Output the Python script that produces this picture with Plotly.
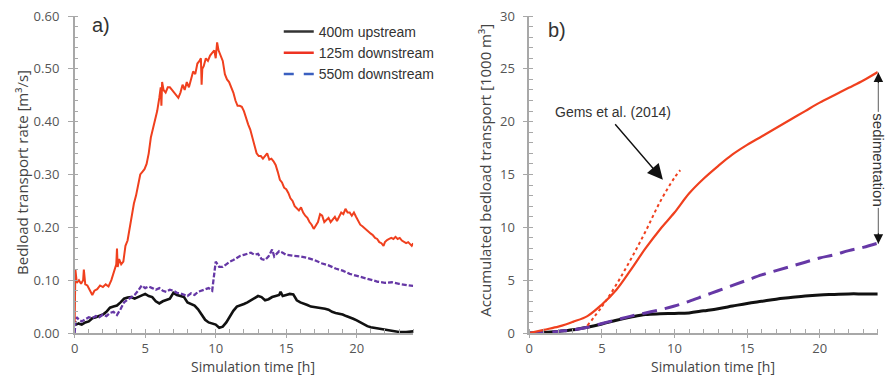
import plotly.graph_objects as go

# ---------- Panel a: bedload transport rate ----------
t_red_a = [0, 0.05, 0.15, 0.3, 0.45, 0.6, 0.65, 0.75, 0.9, 1.1, 1.25, 1.4, 1.6, 1.8, 2.0, 2.2, 2.4, 2.6, 2.8, 2.95,
           3.0, 3.05, 3.15, 3.3, 3.45, 3.6, 3.75, 3.9, 4.05, 4.2, 4.35, 4.5, 4.65, 4.8, 4.95, 5.1, 5.25, 5.4, 5.55, 5.7,
           5.85, 6.0, 6.1, 6.15, 6.2, 6.3, 6.45, 6.6, 6.75, 6.9, 7.05, 7.2, 7.35, 7.5, 7.65, 7.8, 7.95, 8.1, 8.25, 8.4,
           8.55, 8.7, 8.85, 8.95, 9.0, 9.05, 9.15, 9.3, 9.45, 9.6, 9.75, 9.9, 10.0, 10.1, 10.2, 10.35, 10.5, 10.65, 10.8,
           10.95, 11.1, 11.25, 11.4, 11.55, 11.7, 11.85, 12.0, 12.15, 12.3, 12.45, 12.6, 12.75, 12.9, 13.05, 13.2, 13.35,
           13.5, 13.65, 13.8, 13.95, 14.1, 14.25, 14.4, 14.55, 14.7, 14.85, 15.0, 15.15, 15.3, 15.45, 15.6, 15.75, 15.9,
           16.05, 16.2, 16.35, 16.5, 16.65, 16.8, 16.95, 17.1, 17.25, 17.4, 17.55, 17.7, 17.85, 18.0, 18.15, 18.3, 18.45,
           18.6, 18.75, 18.9, 19.05, 19.2, 19.35, 19.5, 19.65, 19.8, 19.95, 20.1, 20.25, 20.4, 20.55, 20.7, 20.85, 21.0,
           21.15, 21.3, 21.45, 21.6, 21.75, 21.9, 22.0, 22.15, 22.3, 22.45, 22.6, 22.75, 22.9, 23.05, 23.2, 23.35, 23.5,
           23.65, 23.8, 23.9, 24.0]
q_red_a = [0.02, 0.12, 0.095, 0.10, 0.093, 0.10, 0.12, 0.092, 0.09, 0.08, 0.072, 0.08, 0.083, 0.09, 0.087, 0.092, 0.088,
           0.10, 0.115, 0.13, 0.16, 0.125, 0.14, 0.13, 0.135, 0.165, 0.175, 0.20, 0.225, 0.245, 0.26, 0.28, 0.30, 0.305,
           0.31, 0.32, 0.34, 0.37, 0.385, 0.40, 0.42, 0.445, 0.465, 0.43, 0.475, 0.46, 0.455, 0.465, 0.465, 0.46, 0.455,
           0.45, 0.445, 0.455, 0.47, 0.46, 0.475, 0.465, 0.48, 0.495, 0.49, 0.51, 0.515, 0.52, 0.47, 0.50, 0.505, 0.52,
           0.515, 0.525, 0.53, 0.535, 0.52, 0.55, 0.535, 0.525, 0.515, 0.49, 0.48, 0.475, 0.465, 0.455, 0.44, 0.43, 0.43,
           0.428, 0.42, 0.405, 0.395, 0.385, 0.37, 0.355, 0.34, 0.335, 0.335, 0.33, 0.335, 0.34, 0.328, 0.33, 0.325,
           0.318, 0.305, 0.29, 0.285, 0.275, 0.272, 0.265, 0.255, 0.25, 0.24, 0.235, 0.232, 0.238, 0.228, 0.222, 0.218,
           0.21, 0.205, 0.197, 0.205, 0.21, 0.225, 0.222, 0.21, 0.215, 0.218, 0.21, 0.215, 0.22, 0.212, 0.22, 0.228,
           0.225, 0.235, 0.228, 0.228, 0.222, 0.228, 0.22, 0.212, 0.205, 0.202, 0.198, 0.195, 0.19, 0.188, 0.185, 0.18,
           0.178, 0.172, 0.17, 0.165, 0.172, 0.176, 0.178, 0.18, 0.178, 0.182, 0.178, 0.18, 0.175, 0.172, 0.17, 0.172,
           0.168, 0.165, 0.17]

t_blk_a = [0, 0.25, 0.5, 0.75, 1.0, 1.25, 1.5, 1.75, 2.0, 2.25, 2.5, 2.75, 3.0, 3.25, 3.5, 3.75, 4.0, 4.25, 4.5, 4.75,
           5.0, 5.25, 5.5, 5.75, 6.0, 6.25, 6.5, 6.75, 7.0, 7.25, 7.5, 7.75, 8.0, 8.25, 8.5, 8.75, 9.0, 9.25, 9.5, 9.75,
           10.0, 10.25, 10.5, 10.75, 11.0, 11.25, 11.5, 11.75, 12.0, 12.25, 12.5, 12.75, 13.0, 13.25, 13.5, 13.75, 14.0,
           14.25, 14.5, 14.6, 14.75, 15.0, 15.25, 15.5, 15.75, 16.0, 16.25, 16.5, 16.75, 17.0, 17.25, 17.5, 17.75, 18.0,
           18.25, 18.5, 18.75, 19.0, 19.25, 19.5, 19.75, 20.0, 20.25, 20.5, 20.75, 21.0, 21.25, 21.5, 21.75, 22.0, 22.25,
           22.5, 22.75, 23.0, 23.5, 24.0]
q_blk_a = [0.015, 0.018, 0.016, 0.02, 0.022, 0.028, 0.03, 0.032, 0.035, 0.04, 0.048, 0.05, 0.052, 0.058, 0.065, 0.067,
           0.068, 0.065, 0.068, 0.07, 0.074, 0.07, 0.068, 0.06, 0.056, 0.06, 0.062, 0.065, 0.076, 0.072, 0.07, 0.068,
           0.058, 0.055, 0.052, 0.045, 0.035, 0.025, 0.02, 0.018, 0.016, 0.01, 0.012, 0.02, 0.032, 0.042, 0.05, 0.052,
           0.055, 0.058, 0.062, 0.066, 0.07, 0.068, 0.062, 0.064, 0.068, 0.07, 0.072, 0.078, 0.07, 0.072, 0.074, 0.073,
           0.062, 0.058, 0.056, 0.053, 0.05, 0.049, 0.048, 0.048, 0.046, 0.044, 0.04, 0.038, 0.037, 0.035, 0.032, 0.03,
           0.027, 0.024, 0.02, 0.016, 0.013, 0.011, 0.01, 0.009, 0.008, 0.007, 0.005, 0.004, 0.003, 0.002, 0.002, 0.003]

t_pur_a = [0, 0.05, 0.15, 0.3, 0.5, 0.75, 1.0, 1.25, 1.5, 1.75, 2.0, 2.25, 2.5, 2.75, 3.0, 3.25, 3.5, 3.75, 4.0, 4.25,
           4.5, 4.75, 5.0, 5.25, 5.5, 5.75, 6.0, 6.25, 6.5, 6.75, 7.0, 7.25, 7.5, 7.75, 8.0, 8.25, 8.5, 8.75, 9.0, 9.25,
           9.5, 9.75, 9.9, 10.0, 10.25, 10.5, 10.75, 11.0, 11.25, 11.5, 11.75, 12.0, 12.25, 12.5, 12.75, 13.0, 13.25,
           13.5, 13.75, 14.0, 14.15, 14.5, 14.75, 15.0, 15.5, 16.0, 16.5, 17.0, 17.5, 18.0, 18.5, 19.0, 19.5, 20.0, 20.5,
           21.0, 21.5, 22.0, 22.5, 23.0, 23.5, 24.0]
q_pur_a = [0.0, 0.02, 0.03, 0.025, 0.022, 0.026, 0.03, 0.028, 0.032, 0.03, 0.035, 0.032, 0.038, 0.04, 0.034, 0.045,
           0.058, 0.063, 0.068, 0.072, 0.08, 0.09, 0.085, 0.088, 0.085, 0.082, 0.085, 0.08, 0.078, 0.082, 0.08, 0.076,
           0.075, 0.072, 0.07, 0.075, 0.072, 0.078, 0.08, 0.082, 0.085, 0.08, 0.12, 0.135, 0.125, 0.125, 0.13, 0.135,
           0.138, 0.142, 0.146, 0.148, 0.15, 0.152, 0.148, 0.15, 0.14, 0.138, 0.145, 0.158, 0.145, 0.155, 0.152, 0.148,
           0.146, 0.145, 0.142, 0.138, 0.132, 0.128, 0.122, 0.118, 0.112, 0.108, 0.104, 0.1, 0.097, 0.095, 0.096, 0.093,
           0.091, 0.089]

# ---------- Panel b: accumulated bedload ----------
t_b = [0, 1, 2, 2.5, 3, 4, 5, 6, 7, 8, 9, 10, 11, 12, 13, 14, 15, 16, 17, 18, 19, 20, 21, 22, 23, 24]
v_red_b = [0, 0.3, 0.6, 0.8, 1.05, 1.6, 2.7, 4.1, 6.0, 8.0, 9.8, 11.4, 13.2, 14.6, 15.8, 16.9, 17.8, 18.6, 19.4, 20.2,
           21.0, 21.8, 22.5, 23.2, 23.9, 24.7]
v_blk_b = [0, 0.05, 0.15, 0.22, 0.3, 0.55, 0.85, 1.2, 1.5, 1.75, 1.82, 1.85, 1.9, 2.1, 2.3, 2.55, 2.8, 3.0, 3.2, 3.35,
           3.5, 3.6, 3.65, 3.7, 3.7, 3.7]
v_pur_b = [0, 0.05, 0.15, 0.22, 0.3, 0.55, 0.9, 1.25, 1.6, 1.9, 2.2, 2.55, 3.0, 3.5, 4.0, 4.5, 5.0, 5.5, 5.9, 6.3, 6.7,
           7.1, 7.4, 7.8, 8.1, 8.5]
t_gems = [4.0, 5.0, 6.0, 7.0, 8.0, 9.0, 10.0, 10.4]
v_gems = [0.7, 2.5, 4.6, 7.0, 9.6, 12.4, 14.7, 15.4]

legend_names = ["400m upstream", "125m downstream", "550m downstream"]
sed_top, sed_bottom = 24.65, 8.45

RED = "#f0401e"
BLK = "#111111"
PUR = "#6638a6"
AX = "#a8a8a8"
TXT = "#555555"

W, H = 889, 377
MT, MB = 16, 44
PH = H - MT - MB


def px(x):
    return x / W


def py(y):
    return (H - MB - y) / PH


fig = go.Figure()

# panel a traces
fig.add_trace(go.Scatter(x=t_blk_a, y=q_blk_a, mode="lines", line=dict(color=BLK, width=2.6),
                         showlegend=False, xaxis="x", yaxis="y"))
fig.add_trace(go.Scatter(x=t_pur_a, y=q_pur_a, mode="lines", line=dict(color=PUR, width=2.3, dash="5px,2px"),
                         showlegend=False, xaxis="x", yaxis="y"))
fig.add_trace(go.Scatter(x=t_red_a, y=q_red_a, mode="lines", line=dict(color=RED, width=2),
                         showlegend=False, xaxis="x", yaxis="y"))

# legend-only entries
fig.add_trace(go.Scatter(x=[None], y=[None], mode="lines", name=legend_names[0],
                         line=dict(color="#333333", width=2.5), xaxis="x", yaxis="y"))
fig.add_trace(go.Scatter(x=[None], y=[None], mode="lines", name=legend_names[1],
                         line=dict(color="#ee3322", width=2.5), xaxis="x", yaxis="y"))
fig.add_trace(go.Scatter(x=[None], y=[None], mode="lines", name=legend_names[2],
                         line=dict(color="#3a5fc0", width=2.5, dash="10px,10px"), xaxis="x", yaxis="y"))

# panel b traces
fig.add_trace(go.Scatter(x=t_b, y=v_blk_b, mode="lines", line=dict(color=BLK, width=3, shape="spline"),
                         showlegend=False, xaxis="x2", yaxis="y2"))
fig.add_trace(go.Scatter(x=t_b, y=v_pur_b, mode="lines",
                         line=dict(color=PUR, width=3, dash="15px,8px", shape="spline"),
                         showlegend=False, xaxis="x2", yaxis="y2"))
fig.add_trace(go.Scatter(x=t_b, y=v_red_b, mode="lines", line=dict(color=RED, width=2.2, shape="spline"),
                         showlegend=False, xaxis="x2", yaxis="y2"))
fig.add_trace(go.Scatter(x=t_gems, y=v_gems, mode="lines", line=dict(color=RED, width=2, dash="dot", shape="spline"),
                         showlegend=False, xaxis="x2", yaxis="y2"))

tickfont = dict(family="Open Sans", size=13, color=TXT)


def xax(domain, anchor):
    return dict(domain=domain, range=[0, 24], dtick=5, tick0=0, showgrid=False, zeroline=False,
                showline=True, linecolor=AX, linewidth=1.5, ticks="outside", ticklen=3, tickcolor=AX,
                tickwidth=1.2, tickfont=tickfont, anchor=anchor, ticklabelstandoff=0,
                minor=dict(dtick=1, ticks="inside", ticklen=4, tickcolor=AX, tickwidth=1), fixedrange=True)


def yax(rng, dtick, mdtick, fmt, anchor, standoff):
    return dict(domain=[0, 1], range=rng, dtick=dtick, tick0=0, tickformat=fmt, showgrid=False, zeroline=False,
                showline=True, linecolor=AX, linewidth=1.5, ticks="outside", ticklen=5, tickcolor=AX,
                tickwidth=1.2, tickfont=tickfont, anchor=anchor, ticklabelstandoff=standoff,
                minor=dict(dtick=mdtick, ticks="inside", ticklen=4, tickcolor=AX, tickwidth=1), fixedrange=True)


title_font = dict(family="Open Sans", size=15, color="#444444")
xtitle_font = dict(family="Open Sans", size=14, color="#444444")
arial = "Liberation Sans, Arial"


def txt(text, x, y, font, **kw):
    d = dict(text=text, x=px(x), y=py(y), xref="paper", yref="paper", showarrow=False,
             xanchor="center", yanchor="middle", font=font)
    d.update(kw)
    return d


SEDX = px(878.3)
annotations = [
    txt("a)", 97, 25, dict(family=arial, size=20, color="#333333")),
    txt("b)", 555, 30, dict(family=arial, size=20, color="#333333")),
    txt("Bedload transport rate [m³/s]", 18, 172, title_font, textangle=-90),
    txt("Accumulated bedload transport [1000 m³]", 483, 170, title_font, textangle=-90),
    txt("Simulation time [h]", 250, 366.5, xtitle_font, borderpad=0),
    txt("Simulation time [h]", 712, 366.5, xtitle_font, borderpad=0),
    txt("Gems et al. (2014)", 612, 112, dict(family=arial, size=14, color="#333333")),
    # Gems arrow
    dict(text="", x=9.2, y=14.5, xref="x2", yref="y2", showarrow=True, ax=-49, ay=-57,
         arrowhead=2, arrowsize=2.2, arrowwidth=1.4, arrowcolor="#111111", standoff=0),
    # sedimentation arrow heads (black)
    dict(text="", x=SEDX, y=sed_top, xref="paper", yref="y2", showarrow=True, ax=0, ay=12,
         arrowhead=2, arrowsize=1.9, arrowwidth=1, arrowcolor="#111111", standoff=0),
    dict(text="", x=SEDX, y=sed_bottom, xref="paper", yref="y2", showarrow=True, ax=0, ay=-12,
         arrowhead=2, arrowsize=1.9, arrowwidth=1, arrowcolor="#111111", standoff=0),
    dict(text="sedimentation", x=SEDX, y=16.4, xref="paper", yref="y2", showarrow=False, textangle=90,
         xanchor="center", yanchor="middle", bgcolor="white", borderpad=1,
         font=dict(family=arial, size=15, color="#333333")),
]

shapes = [
    dict(type="line", xref="paper", yref="y2", x0=SEDX, x1=SEDX, y0=sed_bottom, y1=sed_top,
         line=dict(color="#777777", width=1.2), layer="below"),
]

fig.update_layout(
    width=W, height=H,
    margin=dict(l=0, r=0, t=MT, b=MB),
    paper_bgcolor="white", plot_bgcolor="white",
    xaxis=xax([px(71), px(411)], "y"),
    yaxis=yax([0, 0.6], 0.1, 0.02, ".2f", "x", 6),
    xaxis2=xax([px(527.7), px(877.7)], "y2"),
    yaxis2=yax([0, 30], 5, 1, "d", "x2", 5),
    showlegend=True,
    legend=dict(x=px(276), y=py(16), xanchor="left", yanchor="top", bgcolor="rgba(0,0,0,0)",
                font=dict(family=arial, size=14, color="#333333"), tracegroupgap=0, itemwidth=30),
    annotations=annotations,
    shapes=shapes,
)

fig.write_html("out.html", config={"displayModeBar": False},
               post_script="document.body.style.margin='0';document.body.style.overflow='hidden';")
